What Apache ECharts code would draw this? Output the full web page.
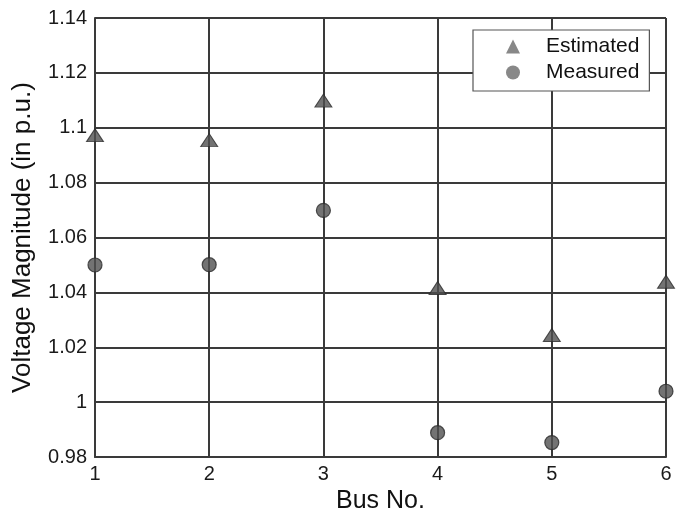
<!DOCTYPE html>
<html>
<head>
<meta charset="utf-8">
<script src="https://cdn.jsdelivr.net/npm/echarts@6/dist/echarts.min.js"></script>
<style>
html,body{margin:0;padding:0;background:#fff;}
#chart{width:681px;height:519px;}
</style>
</head>
<body>
<div id="chart"></div>
<script>
var buses = [1, 2, 3, 4, 5, 6];
var estimated = [1.0973, 1.0955, 1.1099, 1.0416, 1.0245, 1.0439];
var measured = [1.0500, 1.0501, 1.0699, 0.9889, 0.9853, 1.0040];
var yTicks = [0.98, 1.00, 1.02, 1.04, 1.06, 1.08, 1.10, 1.12, 1.14];

var FONT = 'Liberation Sans, Arial, sans-serif';
var LINE = '#3a3a3a';

function pairs(xs, ys) { return xs.map(function (x, i) { return [x, ys[i]]; }); }

var chart = echarts.init(document.getElementById('chart'), null, {renderer: 'canvas'});
chart.setOption({
  backgroundColor: '#ffffff',
  animation: false,
  grid: {left: 95, right: 15, top: 18, bottom: 57},
  legend: {
    left: 473, top: 30,
    orient: 'vertical',
    backgroundColor: '#ffffff',
    borderColor: '#555555',
    borderWidth: 1.2,
    padding: [6, 10, 8, 33],
    itemGap: 5,
    itemWidth: 14,
    itemHeight: 14,
    textStyle: {fontFamily: FONT, fontSize: 21, color: '#111', lineHeight: 21, padding: [0, 0, 0, 21]},
    data: [
      {name: 'Estimated', icon: 'triangle', itemStyle: {color: '#6a6a6a', borderWidth: 0}},
      {name: 'Measured', icon: 'circle', itemStyle: {color: '#6a6a6a', borderWidth: 0}}
    ]
  },
  xAxis: {
    type: 'value', min: buses[0], max: buses[buses.length - 1], interval: 1,
    name: 'Bus No.', nameLocation: 'middle', nameGap: 30,
    nameTextStyle: {fontFamily: FONT, fontSize: 25, color: '#111'},
    axisLine: {show: true, lineStyle: {color: LINE, width: 2}},
    axisTick: {show: false},
    axisLabel: {fontFamily: FONT, fontSize: 20, color: '#1a1a1a', margin: 7},
    splitLine: {show: true, lineStyle: {color: LINE, width: 2}}
  },
  yAxis: {
    type: 'value', min: yTicks[0], max: yTicks[yTicks.length - 1], interval: 0.02,
    name: 'Voltage Magnitude (in p.u.)', nameLocation: 'middle', nameGap: 59,
    nameTextStyle: {fontFamily: FONT, fontSize: 26, color: '#111'},
    axisLine: {show: true, lineStyle: {color: LINE, width: 2}},
    axisTick: {show: false},
    axisLabel: {fontFamily: FONT, fontSize: 20, color: '#1a1a1a', margin: 8,
      formatter: function (v) { return String(+(+v).toFixed(2)); }},
    splitLine: {show: true, lineStyle: {color: LINE, width: 2}}
  },
  series: [
    {
      name: 'Estimated', type: 'scatter', symbol: 'triangle', symbolSize: [17, 13],
      clip: false, z: 5,
      itemStyle: {color: '#505050', borderColor: '#2a2a2a', borderWidth: 1},
      data: pairs(buses, estimated)
    },
    {
      name: 'Measured', type: 'scatter', symbol: 'circle', symbolSize: 14,
      clip: false, z: 5,
      itemStyle: {color: '#505050', borderColor: '#2a2a2a', borderWidth: 1.2},
      data: pairs(buses, measured)
    }
  ]
});
</script>
</body>
</html>
